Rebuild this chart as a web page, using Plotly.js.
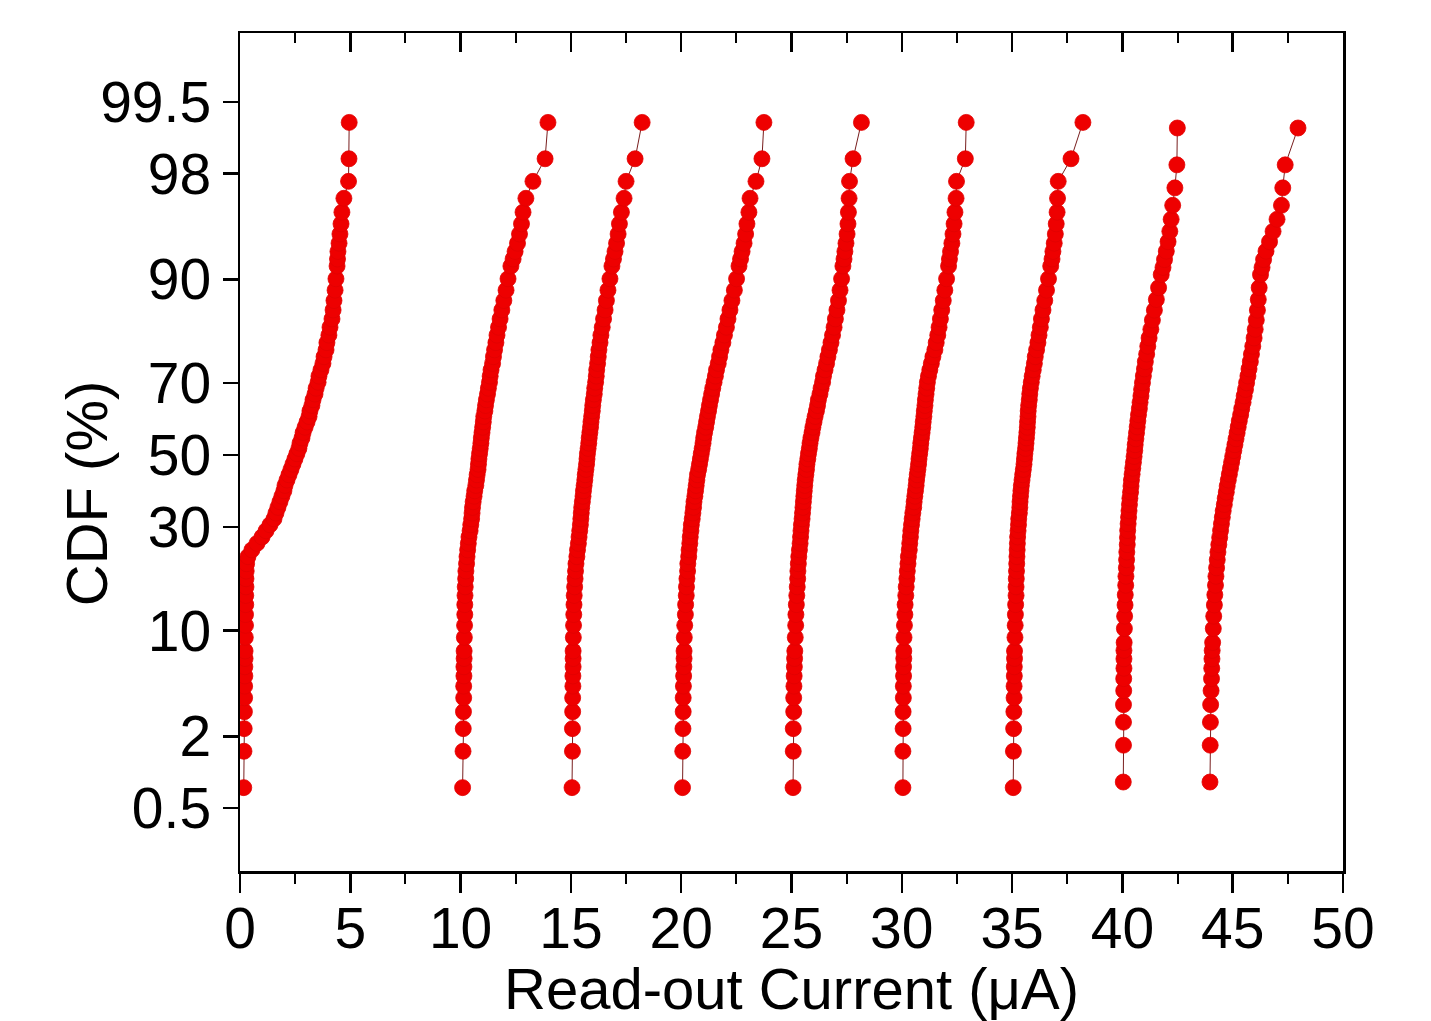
<!DOCTYPE html>
<html>
<head>
<meta charset="utf-8">
<script src="https://cdn.plot.ly/plotly-3.0.1.min.js"></script>
<style>
  html, body { margin: 0; padding: 0; background: #ffffff; }
  #chart { width: 1431px; height: 1021px; }
</style>
</head>
<body>
<div id="chart"></div>
<script>
// ---------------- DATA ----------------
// Cumulative probability (%) of each plotted point, groups with 130 devices
const cdfPctA = [
  0.76, 1.53, 2.29, 3.05, 3.82, 4.58, 5.34, 6.11, 6.87,
  7.63, 9.16, 10.69, 12.21, 13.74, 15.27, 16.79, 18.32, 19.85, 21.37,
  22.90, 24.43, 25.95, 27.48, 29.01, 30.53, 32.06, 33.59, 35.11, 36.64,
  38.17, 39.69, 41.22, 42.75, 44.27, 45.80, 47.33, 48.85, 50.38, 51.91,
  53.44, 54.96, 56.49, 58.02, 59.54, 61.07, 62.60, 64.12, 65.65, 67.18,
  68.70, 70.23, 71.76, 73.28, 74.81, 76.34, 77.86, 79.39, 80.92, 82.44,
  83.97, 85.50, 87.02, 88.55, 90.08, 91.60,
  92.37, 93.13, 93.89, 94.66, 95.42, 96.18, 96.95, 97.71, 98.47, 99.24
];
// Cumulative probability (%) of each plotted point, groups with 116 devices
const cdfPctB = [
  0.85, 1.71, 2.56, 3.42, 4.27, 5.13, 5.98, 6.84, 7.69,
  8.55, 10.26, 11.97, 13.68, 15.38, 17.09, 18.80, 20.51, 22.22, 23.93,
  25.64, 27.35, 29.06, 30.77, 32.48, 34.19, 35.90, 37.61, 39.32, 41.03,
  42.74, 44.44, 46.15, 47.86, 49.57, 51.28, 52.99, 54.70, 56.41, 58.12,
  59.83, 61.54, 63.25, 64.96, 66.67, 68.38, 70.09, 71.79, 73.50, 75.21,
  76.92, 78.63, 80.34, 82.05, 83.76, 85.47, 87.18, 88.89, 90.60,
  91.45, 92.31, 93.16, 94.02, 94.87, 95.73, 96.58, 97.44, 98.29, 99.15
];

// Read-out current (uA) of each level, sorted ascending
const level1 = [
  0.17, 0.18, 0.19, 0.20, 0.21, 0.21, 0.22, 0.22, 0.23,
  0.23, 0.24, 0.25, 0.25, 0.26, 0.26, 0.27, 0.27, 0.28, 0.30,
  0.36, 0.54, 0.77, 1.00, 1.18, 1.36, 1.54, 1.63, 1.72, 1.81,
  1.90, 1.99, 2.04, 2.13, 2.22, 2.31, 2.40, 2.49, 2.58, 2.67,
  2.72, 2.81, 2.86, 2.95, 3.04, 3.13, 3.17, 3.26, 3.31, 3.40,
  3.45, 3.54, 3.58, 3.67, 3.76, 3.81, 3.90, 3.94, 4.03, 4.08,
  4.17, 4.22, 4.26, 4.31, 4.35, 4.40,
  4.42, 4.44, 4.49, 4.53, 4.58, 4.62, 4.71, 4.92, 4.94, 4.95
];
const level2 = [
  10.09, 10.11, 10.12, 10.13, 10.14, 10.14, 10.15, 10.15, 10.16,
  10.16, 10.17, 10.18, 10.19, 10.19, 10.20, 10.21, 10.23, 10.24, 10.27,
  10.29, 10.32, 10.35, 10.38, 10.43, 10.46, 10.50, 10.52, 10.54, 10.57,
  10.61, 10.64, 10.69, 10.72, 10.75, 10.79, 10.81, 10.83, 10.86, 10.89,
  10.92, 10.94, 10.97, 11.00, 11.03, 11.05, 11.10, 11.13, 11.17, 11.22,
  11.26, 11.31, 11.34, 11.38, 11.45, 11.49, 11.54, 11.60, 11.65, 11.72,
  11.79, 11.87, 11.96, 12.06, 12.15, 12.28,
  12.38, 12.47, 12.58, 12.67, 12.76, 12.83, 12.96, 13.28, 13.83, 13.96
];
const level3 = [
  15.05, 15.07, 15.07, 15.08, 15.08, 15.09, 15.09, 15.10, 15.10,
  15.10, 15.11, 15.12, 15.13, 15.14, 15.15, 15.17, 15.19, 15.21, 15.23,
  15.27, 15.30, 15.34, 15.37, 15.40, 15.43, 15.45, 15.47, 15.49, 15.52,
  15.55, 15.57, 15.60, 15.63, 15.65, 15.68, 15.71, 15.73, 15.75, 15.78,
  15.81, 15.83, 15.86, 15.89, 15.91, 15.94, 15.97, 15.99, 16.02, 16.06,
  16.08, 16.12, 16.15, 16.17, 16.21, 16.24, 16.27, 16.32, 16.36, 16.42,
  16.48, 16.55, 16.61, 16.68, 16.77, 16.86,
  16.93, 17.00, 17.07, 17.14, 17.20, 17.29, 17.41, 17.50, 17.91, 18.23
];
const level4 = [
  20.06, 20.07, 20.08, 20.09, 20.09, 20.10, 20.11, 20.12, 20.13,
  20.13, 20.14, 20.16, 20.19, 20.20, 20.23, 20.24, 20.26, 20.29, 20.30,
  20.34, 20.36, 20.39, 20.41, 20.44, 20.46, 20.50, 20.53, 20.56, 20.58,
  20.62, 20.65, 20.68, 20.71, 20.74, 20.79, 20.83, 20.87, 20.91, 20.95,
  20.99, 21.02, 21.06, 21.11, 21.15, 21.19, 21.24, 21.28, 21.33, 21.38,
  21.43, 21.49, 21.55, 21.60, 21.68, 21.74, 21.80, 21.89, 21.96, 22.05,
  22.12, 22.21, 22.30, 22.41, 22.51, 22.62,
  22.69, 22.76, 22.85, 22.92, 22.98, 23.07, 23.12, 23.39, 23.66, 23.75
];
const level5 = [
  25.07, 25.08, 25.08, 25.10, 25.10, 25.11, 25.12, 25.13, 25.14,
  25.15, 25.17, 25.19, 25.20, 25.22, 25.24, 25.26, 25.28, 25.29, 25.31,
  25.33, 25.36, 25.39, 25.41, 25.43, 25.45, 25.48, 25.50, 25.52, 25.54,
  25.56, 25.58, 25.60, 25.62, 25.65, 25.68, 25.70, 25.74, 25.77, 25.81,
  25.84, 25.88, 25.93, 25.97, 26.02, 26.07, 26.13, 26.18, 26.22, 26.29,
  26.34, 26.41, 26.45, 26.52, 26.59, 26.65, 26.72, 26.79, 26.86, 26.93,
  26.99, 27.06, 27.13, 27.20, 27.27, 27.33,
  27.38, 27.42, 27.47, 27.52, 27.56, 27.58, 27.61, 27.63, 27.79, 28.17
];
const level6 = [
  30.05, 30.05, 30.06, 30.06, 30.07, 30.07, 30.08, 30.08, 30.09,
  30.09, 30.10, 30.12, 30.14, 30.15, 30.18, 30.20, 30.23, 30.25, 30.28,
  30.30, 30.34, 30.36, 30.39, 30.41, 30.44, 30.47, 30.50, 30.54, 30.56,
  30.59, 30.62, 30.65, 30.67, 30.70, 30.73, 30.76, 30.78, 30.81, 30.84,
  30.86, 30.89, 30.92, 30.95, 30.97, 31.00, 31.02, 31.05, 31.07, 31.10,
  31.13, 31.16, 31.21, 31.27, 31.34, 31.41, 31.50, 31.56, 31.63, 31.69,
  31.75, 31.81, 31.88, 31.95, 32.03, 32.12,
  32.16, 32.21, 32.27, 32.32, 32.37, 32.41, 32.46, 32.48, 32.88, 32.92
];
const level7 = [
  35.05, 35.06, 35.07, 35.08, 35.09, 35.09, 35.10, 35.10, 35.11,
  35.11, 35.13, 35.14, 35.15, 35.16, 35.18, 35.18, 35.19, 35.20, 35.21,
  35.22, 35.23, 35.24, 35.25, 35.27, 35.29, 35.30, 35.33, 35.35, 35.36,
  35.38, 35.40, 35.42, 35.45, 35.48, 35.51, 35.54, 35.56, 35.58, 35.61,
  35.63, 35.65, 35.67, 35.69, 35.70, 35.72, 35.73, 35.75, 35.78, 35.80,
  35.83, 35.87, 35.91, 35.96, 36.01, 36.05, 36.11, 36.17, 36.22, 36.28,
  36.33, 36.40, 36.48, 36.56, 36.65, 36.75,
  36.81, 36.85, 36.91, 36.96, 37.00, 37.04, 37.06, 37.09, 37.67, 38.21
];
const level8 = [
  40.04, 40.05, 40.05, 40.05, 40.06, 40.06, 40.07, 40.07, 40.07,
  40.08, 40.09, 40.10, 40.12, 40.13, 40.15, 40.16, 40.18, 40.19, 40.20,
  40.22, 40.23, 40.24, 40.26, 40.28, 40.30, 40.32, 40.34, 40.37, 40.39,
  40.41, 40.44, 40.47, 40.50, 40.53, 40.56, 40.58, 40.61, 40.64, 40.67,
  40.70, 40.73, 40.77, 40.80, 40.84, 40.87, 40.91, 40.95, 41.00, 41.04,
  41.10, 41.15, 41.21, 41.29, 41.36, 41.45, 41.54, 41.64, 41.76,
  41.84, 41.91, 41.99, 42.07, 42.15, 42.21, 42.28, 42.38, 42.47, 42.49
];
const level9 = [
  43.97, 43.98, 43.99, 44.00, 44.02, 44.04, 44.05, 44.06, 44.07,
  44.09, 44.12, 44.14, 44.17, 44.19, 44.22, 44.24, 44.27, 44.30, 44.33,
  44.37, 44.41, 44.45, 44.49, 44.53, 44.57, 44.62, 44.66, 44.71, 44.75,
  44.80, 44.85, 44.90, 44.95, 45.00, 45.05, 45.10, 45.15, 45.20, 45.25,
  45.30, 45.36, 45.41, 45.47, 45.52, 45.58, 45.63, 45.69, 45.74, 45.80,
  45.85, 45.91, 45.97, 46.02, 46.07, 46.12, 46.16, 46.20, 46.26,
  46.33, 46.40, 46.51, 46.67, 46.83, 47.01, 47.21, 47.27, 47.38, 47.96
];

const levelNames = ['Level 1', 'Level 2', 'Level 3', 'Level 4', 'Level 5',
                    'Level 6', 'Level 7', 'Level 8', 'Level 9'];
const levelCurrents = [level1, level2, level3, level4, level5, level6, level7, level8, level9];
const levelCdf = [cdfPctA, cdfPctA, cdfPctA, cdfPctA, cdfPctA, cdfPctA, cdfPctA, cdfPctB, cdfPctB];

const xTickValues = [0, 5, 10, 15, 20, 25, 30, 35, 40, 45, 50];
const yTickPercents = [0.5, 2, 10, 30, 50, 70, 90, 98, 99.5];
const yTickLabels = ['0.5', '2', '10', '30', '50', '70', '90', '98', '99.5'];

// ---------------- probability (normal quantile) scale ----------------
function probit(p) {
  const a = [-3.969683028665376e+01, 2.209460984245205e+02, -2.759285104469687e+02,
             1.383577518672690e+02, -3.066479806614716e+01, 2.506628277459239e+00];
  const b = [-5.447609879822406e+01, 1.615858368580409e+02, -1.556989798598866e+02,
             6.680131188771972e+01, -1.328068155288572e+01];
  const c = [-7.784894002430293e-03, -3.223964580411365e-01, -2.400758277161838e+00,
             -2.549671010229297e+00, 4.374664141464968e+00, 2.938163982698783e+00];
  const d = [7.784695709041462e-03, 3.224671290700398e-01, 2.445134137142996e+00,
             3.754408661907416e+00];
  const pl = 0.02425, ph = 1 - pl;
  let q, r;
  if (p < pl) {
    q = Math.sqrt(-2 * Math.log(p));
    return (((((c[0]*q + c[1])*q + c[2])*q + c[3])*q + c[4])*q + c[5]) /
           ((((d[0]*q + d[1])*q + d[2])*q + d[3])*q + 1);
  }
  if (p <= ph) {
    q = p - 0.5; r = q * q;
    return (((((a[0]*r + a[1])*r + a[2])*r + a[3])*r + a[4])*r + a[5]) * q /
           (((((b[0]*r + b[1])*r + b[2])*r + b[3])*r + b[4])*r + 1);
  }
  q = Math.sqrt(-2 * Math.log(1 - p));
  return -(((((c[0]*q + c[1])*q + c[2])*q + c[3])*q + c[4])*q + c[5]) /
          ((((d[0]*q + d[1])*q + d[2])*q + d[3])*q + 1);
}
const toScale = pct => probit(pct / 100);

// ---------------- traces ----------------
const FONT = 'Liberation Sans, Arial, Helvetica, sans-serif';
const traces = levelCurrents.map((xs, i) => ({
  type: 'scatter',
  mode: 'lines+markers',
  name: levelNames[i],
  x: xs,
  y: levelCdf[i].map(toScale),
  customdata: levelCdf[i],
  hovertemplate: '%{x} µA<br>CDF %{customdata}%<extra></extra>',
  line: { color: 'rgb(120,30,30)', width: 1 },
  marker: { color: 'rgb(238,0,0)', size: 16, line: { color: 'rgb(225,0,0)', width: 0.8 } },
  showlegend: false
}));

const axisCommon = {
  showgrid: false,
  zeroline: false,
  showline: true,
  linecolor: '#000',
  linewidth: 2.5,
  tickcolor: '#000',
  tickwidth: 2.5,
  tickfont: { family: FONT, size: 57, color: '#000' }
};

const layout = {
  width: 1431,
  height: 1021,
  margin: { l: 240, r: 88, t: 33, b: 150 },
  paper_bgcolor: '#fff',
  plot_bgcolor: '#fff',
  showlegend: false,
  xaxis: Object.assign({}, axisCommon, {
    range: [0, 50],
    tickmode: 'array',
    tickvals: xTickValues,
    ticks: 'outside',
    ticklen: 19,
    ticklabelstandoff: -13,
    mirror: true,
    minor: { dtick: 2.5, tick0: 0, ticks: 'outside', ticklen: 10, tickwidth: 2, tickcolor: '#000', showgrid: false },
    title: { text: 'Read-out Current (μA)', font: { family: FONT, size: 58, color: '#000' }, standoff: 35 }
  }),
  xaxis2: {
    overlaying: 'x',
    anchor: 'y',
    side: 'top',
    range: [0, 50],
    tickmode: 'array',
    tickvals: xTickValues,
    ticks: 'inside',
    ticklen: 19,
    tickwidth: 2.5,
    tickcolor: '#000',
    showticklabels: false,
    showgrid: false,
    zeroline: false,
    showline: false,
    minor: { dtick: 2.5, tick0: 0, ticks: 'inside', ticklen: 10, tickwidth: 2, tickcolor: '#000', showgrid: false }
  },
  yaxis: Object.assign({}, axisCommon, {
    range: [-3.036, 3.08],
    tickmode: 'array',
    tickvals: yTickPercents.map(toScale),
    ticktext: yTickLabels,
    ticks: 'outside',
    ticklen: 15,
    mirror: true
  }),
  annotations: [{
    text: 'CDF (%)',
    xref: 'paper', yref: 'paper',
    x: -0.1395, y: 0.451,
    xanchor: 'center', yanchor: 'middle',
    textangle: -90,
    showarrow: false,
    font: { family: FONT, size: 58, color: '#000' }
  }]
};

// a hidden helper trace on the top axis so that the top tick row is drawn
traces.push({
  type: 'scatter', mode: 'markers', x: [level1[0]], y: [cdfPctA[0]].map(toScale),
  xaxis: 'x2', yaxis: 'y', hoverinfo: 'skip', showlegend: false,
  marker: { color: 'rgba(0,0,0,0)', size: 1 }
});

Plotly.newPlot('chart', traces, layout, { staticPlot: true, displayModeBar: false });
</script>
</body>
</html>
